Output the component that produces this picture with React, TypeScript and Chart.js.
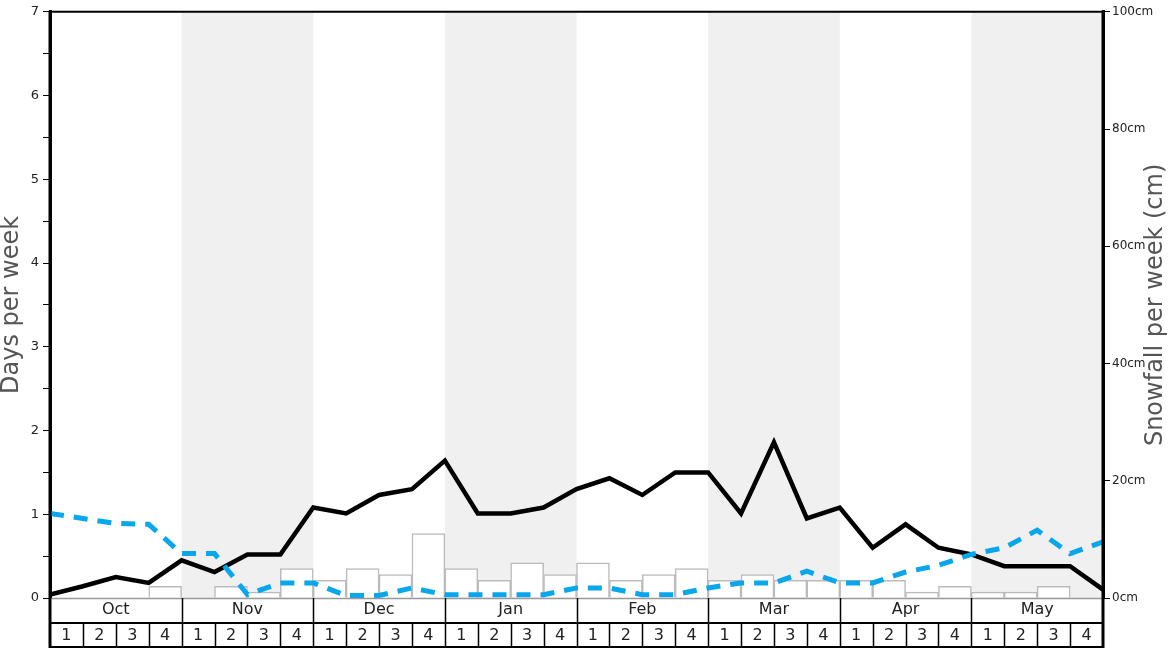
import React, { useEffect, useRef } from 'react';
import { Chart, registerables } from 'chart.js';

Chart.register(...registerables);

const monthLabels = ['Oct', 'Nov', 'Dec', 'Jan', 'Feb', 'Mar', 'Apr', 'May'];
const weekLabels = ['1', '2', '3', '4'];
const weekCategories = monthLabels.flatMap((m) => weekLabels.map((w) => `${m} ${w}`));

// Snowfall per week (cm), one per week (right axis)
const snowfallCm = [0, 0, 0, 2, 0, 2, 1, 5, 3, 5, 4, 11, 5, 3, 6, 4, 6, 3, 4, 5, 3, 4, 3, 3, 3, 3, 1, 2, 1, 1, 2, 0];
// Snow days per week (black line), at week boundaries
const snowDays = [0.04, 0.14, 0.25, 0.18, 0.45, 0.31, 0.52, 0.52, 1.08, 1.01, 1.23, 1.30, 1.64, 1.01, 1.01, 1.08, 1.30, 1.43, 1.23, 1.50, 1.50, 1.01, 1.86, 0.95, 1.08, 0.60, 0.88, 0.60, 0.52, 0.38, 0.38, 0.38, 0.10];
// Second series (blue dashed), at week boundaries
const blueDays = [1.01, 0.95, 0.89, 0.88, 0.53, 0.53, 0.04, 0.18, 0.18, 0.03, 0.03, 0.12, 0.04, 0.04, 0.04, 0.04, 0.12, 0.12, 0.04, 0.04, 0.12, 0.18, 0.18, 0.32, 0.18, 0.18, 0.31, 0.39, 0.52, 0.60, 0.81, 0.53, 0.67];

const leftTitle = 'Days per week';
const rightTitle = 'Snowfall per week (cm)';

const FONT = "'DejaVu Sans', sans-serif";

const tablePlugin = {
  id: 'tablePlugin',
  beforeDraw(chart: any) {
    const { ctx, chartArea } = chart;
    const { top, bottom } = chartArea;
    const x2 = chart.scales.x2;
    ctx.save();
    ctx.fillStyle = '#ffffff';
    ctx.fillRect(0, 0, chart.width, chart.height);
    ctx.fillStyle = '#f0f0f0';
    for (let m = 1; m < monthLabels.length; m += 2) {
      const a = x2.getPixelForValue(m * 4);
      const b = x2.getPixelForValue(m * 4 + 4);
      ctx.fillRect(a, top, b - a, bottom - top);
    }
    ctx.restore();
  },
  afterDraw(chart: any) {
    const { ctx, chartArea } = chart;
    const { left, right, top, bottom } = chartArea;
    const x2 = chart.scales.x2;
    const H = chart.height;
    const rowMid = bottom + 24;
    ctx.save();
    ctx.strokeStyle = '#999999';
    ctx.lineWidth = 1.5;
    ctx.beginPath();
    ctx.moveTo(left, bottom + 0.5);
    ctx.lineTo(right, bottom + 0.5);
    ctx.stroke();
    ctx.strokeStyle = '#000000';
    ctx.lineWidth = 2;
    ctx.beginPath();
    ctx.moveTo(left, rowMid + 1);
    ctx.lineTo(right, rowMid + 1);
    ctx.moveTo(left, H - 1);
    ctx.lineTo(right, H - 1);
    ctx.stroke();
    ctx.beginPath();
    ctx.moveTo(left, top);
    ctx.lineTo(right, top);
    ctx.stroke();
    ctx.lineWidth = 1.5;
    ctx.beginPath();
    for (let m = 1; m < monthLabels.length; m++) {
      const x = Math.round(x2.getPixelForValue(m * 4)) + 0.5;
      ctx.moveTo(x, bottom);
      ctx.lineTo(x, H);
    }
    ctx.stroke();
    ctx.beginPath();
    for (let w = 1; w < weekCategories.length; w++) {
      if (w % 4 === 0) continue;
      const x = Math.round(x2.getPixelForValue(w)) + 0.5;
      ctx.moveTo(x, rowMid + 1);
      ctx.lineTo(x, H);
    }
    ctx.stroke();
    ctx.lineWidth = 3;
    ctx.beginPath();
    ctx.moveTo(left, top - 1);
    ctx.lineTo(left, H);
    ctx.moveTo(right, top - 1);
    ctx.lineTo(right, H);
    ctx.stroke();
    ctx.fillStyle = '#222222';
    ctx.font = `16px ${FONT}`;
    ctx.textAlign = 'center';
    ctx.textBaseline = 'middle';
    monthLabels.forEach((m, i) => {
      const cx = (x2.getPixelForValue(i * 4) + x2.getPixelForValue(i * 4 + 4)) / 2;
      ctx.fillText(m, cx, bottom + 12);
    });
    for (let w = 0; w < weekCategories.length; w++) {
      const cx = (x2.getPixelForValue(w) + x2.getPixelForValue(w + 1)) / 2;
      ctx.fillText(weekLabels[w % 4], cx, rowMid + 14);
    }
    // right axis title, reading bottom to top
    ctx.fillStyle = '#555555';
    ctx.font = `24px ${FONT}`;
    ctx.translate(chart.width - 12, (top + bottom) / 2);
    ctx.rotate(-Math.PI / 2);
    ctx.fillText(rightTitle, 0, 0);
    ctx.restore();
  },
};

export default function App() {
  const ref = useRef<HTMLCanvasElement | null>(null);
  useEffect(() => {
    if (!ref.current) return;
    const chart = new Chart(ref.current, {
      type: 'bar',
      data: {
        labels: weekCategories,
        datasets: [
          {
            type: 'line',
            label: 'Blue',
            data: blueDays.map((v, i) => ({ x: i, y: v })),
            xAxisID: 'x2',
            yAxisID: 'y',
            borderColor: '#08a6ea',
            borderWidth: 5,
            borderDash: [14, 10],
            pointRadius: 0,
            tension: 0,
            fill: false,
            order: 1,
          } as any,
          {
            type: 'line',
            label: 'Snow days',
            data: snowDays.map((v, i) => ({ x: i, y: v })),
            xAxisID: 'x2',
            yAxisID: 'y',
            borderColor: '#000000',
            borderWidth: 4.5,
            borderJoinStyle: 'miter',
            pointRadius: 0,
            tension: 0,
            fill: false,
            order: 2,
          } as any,
          {
            type: 'bar',
            label: 'Snowfall',
            data: snowfallCm.map((v) => (v === 0 ? null : v)),
            xAxisID: 'x',
            yAxisID: 'y1',
            backgroundColor: '#ffffff',
            borderColor: '#bbbbbb',
            borderWidth: 1.5,
            barPercentage: 1,
            categoryPercentage: 1,
            grouped: false,
            order: 3,
          } as any,
        ],
      },
      options: {
        responsive: false,
        animation: false,
        devicePixelRatio: 1,
        layout: { padding: { top: 10, bottom: 50, left: 0, right: 0 } },
        plugins: { legend: { display: false }, tooltip: { enabled: false } },
        scales: {
          x: { type: 'category', display: false, offset: true },
          x2: { type: 'linear', display: false, min: 0, max: 32, offset: false },
          y: {
            position: 'left',
            min: 0,
            max: 7,
            afterFit: (s: any) => { s.width = 50; },
            ticks: {
              stepSize: 0.5,
              autoSkip: false,
              padding: 4,
              color: '#222222',
              font: { family: FONT, size: 13 },
              callback: (v: any) => (Number.isInteger(v) ? String(v) : ''),
            },
            grid: { drawOnChartArea: false, drawTicks: true, tickLength: 7, color: '#000000' },
            border: { display: true, color: '#000000', width: 3 },
            title: {
              display: true,
              text: leftTitle,
              color: '#555555',
              font: { family: FONT, size: 24, lineHeight: 1.0 },
              padding: 0,
            },
          },
          y1: {
            position: 'right',
            min: 0,
            max: 100,
            afterFit: (s: any) => { s.width = 65; },
            ticks: {
              stepSize: 20,
              padding: 2,
              color: '#222222',
              font: { family: FONT, size: 12 },
              callback: (v: any) => `${v}cm`,
            },
            grid: { drawOnChartArea: false, drawTicks: true, tickLength: 7, color: '#000000' },
            border: { display: true, color: '#000000', width: 3 },
          },
        },
      },
      plugins: [tablePlugin],
    } as any);
    return () => chart.destroy();
  }, []);
  return (
    <div style={{ position: 'fixed', left: 0, top: 0, width: 1168, height: 648, background: '#fff' }}>
      <canvas ref={ref} width={1168} height={648} style={{ display: 'block' }} />
    </div>
  );
}
